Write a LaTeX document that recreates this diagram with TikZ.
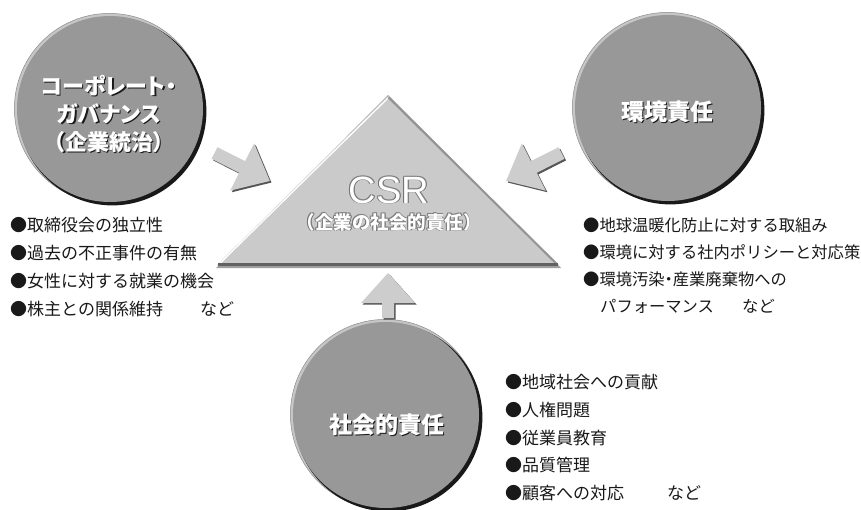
\documentclass[tikz,border=0pt]{standalone}
\usepackage{fontspec}
\setmainfont{Noto Sans CJK JP}
\newfontfamily\jpp[RawFeature=+palt]{Noto Sans CJK JP}
\newfontfamily\latf{Liberation Sans}
\usetikzlibrary{calc}
\definecolor{circfill}{RGB}{152,152,152}
\definecolor{trifill}{RGB}{202,202,202}
\definecolor{arrfill}{RGB}{205,205,205}
\definecolor{arrshade}{RGB}{85,85,85}
\definecolor{txt}{RGB}{25,25,25}
\newcommand\embtxt[1]{\makebox[0pt][l]{\hspace{1.3pt}\raisebox{-1.3pt}{\textcolor{black!90}{#1}}}\makebox[0pt][l]{\hspace{-0.5pt}\raisebox{0.5pt}{\textcolor{black!40}{#1}}}\textcolor{white}{#1}}
\newcommand\outltxt[1]{\makebox[0pt][l]{\hspace{0.9pt}\raisebox{-0.9pt}{\textcolor{black!65}{#1}}}\makebox[0pt][l]{\hspace{-0.9pt}\raisebox{0.9pt}{\textcolor{black!45}{#1}}}\makebox[0pt][l]{\hspace{0.9pt}\raisebox{0.9pt}{\textcolor{black!50}{#1}}}\makebox[0pt][l]{\hspace{-0.9pt}\raisebox{-0.9pt}{\textcolor{black!55}{#1}}}\textcolor{white}{#1}}
\newcommand\blkarrow[6]{%
  \begin{scope}[shift={(#1)},xshift=1.6pt,yshift=-1.6pt,rotate=#2]
    \fill[arrshade] (0,-#6) -- (#3-#4,-#6) -- (#3-#4,-#5) -- (#3,0) -- (#3-#4,#5) -- (#3-#4,#6) -- (0,#6) -- cycle;
  \end{scope}
  \begin{scope}[shift={(#1)},rotate=#2]
    \fill[arrfill] (0,-#6) -- (#3-#4,-#6) -- (#3-#4,-#5) -- (#3,0) -- (#3-#4,#5) -- (#3-#4,#6) -- (0,#6) -- cycle;
  \end{scope}}
\newcommand\shdisc[2]{%
  \fill[gray!45, draw=black!45, line width=0.5pt] ([shift={(-0.6pt,0.6pt)}]#1) circle[radius=95pt];
  \fill[black!90] ([shift={(2.4pt,-2.4pt)}]#1) circle[radius=94pt];
  \node[disc, minimum size=186pt] (#2) at (#1) {};}
\begin{document}
\begin{tikzpicture}[x=1pt,y=-1pt,
  bullist/.style={anchor=west, inner sep=0pt, text=txt, font=\fontsize{17}{20}\selectfont},
  bullistr/.style={anchor=west, inner sep=0pt, text=txt, font=\fontsize{16.3}{20}\selectfont},
  circlab/.style={inner sep=0pt, align=center, font=\jpp\bfseries\fontsize{23}{28}\selectfont},
  disc/.style={circle, inner sep=0pt, fill=circfill}]
\useasboundingbox (0,0) rectangle (861,509);
\fill[white] (0,0) rectangle (861,509);

% circles
\coordinate (lcC) at (110,109);
\coordinate (rcC) at (668,108);
\coordinate (bcC) at (386,415);
\shdisc{lcC}{lc}
\shdisc{rcC}{rc}
\shdisc{bcC}{bc}

% triangle
\coordinate (tA) at (388,96);
\coordinate (tL) at (217,265);
\coordinate (tR) at (559,265);
\fill[black!38] ($(tL)+(-1,3)$) -- ($(tA)+(0,-1)$) -- ($(tR)+(2,3)$) -- cycle;
\fill[trifill] (tL) -- (tA) -- (tR) -- cycle;
\draw[white, line width=1.3pt] ($(tL)+(2.5,-1.2)$) -- ($(tA)+(0,2)$);
\draw[black!42, line width=2pt] ($(tA)+(0.6,1.5)$) -- ($(tR)+(-2.5,-1.2)$);
\draw[black!62, line width=2.6pt] ($(tL)+(1,-0.5)$) -- ($(tR)+(-1,-0.5)$);

% arrows
\coordinate (laT) at (214.5,153);
\coordinate (raT) at (561.5,153);
\coordinate (baT) at (388,318);
\blkarrow{laT}{-26.8}{62}{31}{26.5}{6.5}
\blkarrow{raT}{-153.2}{62}{31}{26.5}{6.5}
\blkarrow{baT}{90}{45}{30}{27}{6}

% circle labels
\node[circlab, font=\jpp\bfseries\fontsize{22}{28}\selectfont] (lcL) at (109,114) {\embtxt{コーポレート・}\\\embtxt{ガバナンス}\\\embtxt{（企業統治）}};
\node[circlab] (rcL) at (667,112) {\embtxt{環境責任}};
\node[circlab] (bcL) at (387,425) {\embtxt{社会的責任}};

% CSR
\node[inner sep=0pt, font=\latf\fontsize{38}{40}\selectfont] (csr) at (389,190) {\outltxt{CSR}};
\node[inner sep=0pt, font=\bfseries\fontsize{18.5}{20}\selectfont] (csrsub) at (389,222) {\outltxt{（企業の社会的責任）}};

% left list
\node[bullist] (l1) at (10,225) {●取締役会の独立性};
\node[bullist] (l2) at (10,253) {●過去の不正事件の有無};
\node[bullist] (l3) at (10,281) {●女性に対する就業の機会};
\node[bullist] (l4) at (10,309) {●株主との関係維持};
\node[bullist] (l4n) at (200,309) {など};

% right list
\node[bullistr] (r1) at (583,225) {●地球温暖化防止に対する取組み};
\node[bullistr] (r2) at (583,252) {●環境に対する社内ポリシーと対応策};
\node[bullistr] (r3) at (583,279) {●環境汚染{\jpp ・}産業廃棄物への};
\node[bullistr] (r4) at (600,306) {パフォーマンス};
\node[bullistr] (r4n) at (742,306) {など};

% bottom list
\node[bullist] (b1) at (505,382) {●地域社会への貢献};
\node[bullist] (b2) at (505,410) {●人権問題};
\node[bullist] (b3) at (505,438) {●従業員教育};
\node[bullist] (b4) at (505,465) {●品質管理};
\node[bullist] (b5) at (505,493) {●顧客への対応};
\node[bullist] (b5n) at (667,493) {など};
\end{tikzpicture}
\end{document}
